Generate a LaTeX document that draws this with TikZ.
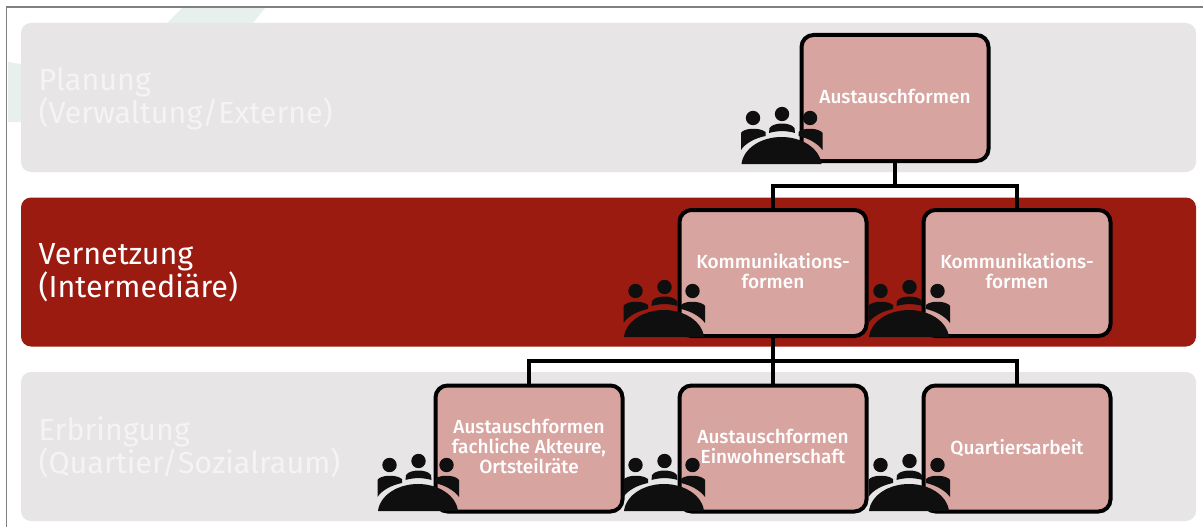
\documentclass[tikz,border=0pt]{standalone}
\usepackage{fontspec}
\setmainfont{Fira Sans}
\newfontfamily\boxfont{Fira Sans Medium}
\usetikzlibrary{
  positioning,
}
\definecolor{bandgray}{HTML}{E7E5E6}
\definecolor{bandred}{HTML}{9B1B11}
\definecolor{boxpink}{HTML}{D7A4A0}
\definecolor{decoteal}{HTML}{E8F0EE}
\definecolor{icondark}{HTML}{0F0F0F}
\definecolor{paletext}{HTML}{F5F4F5}
\tikzset{
  band/.style={
    rectangle,
    rounded corners=10pt,
    minimum width=1175pt,
    minimum height=149pt,
    anchor=north west,
    inner sep=0pt,
    outer sep=0pt,
  },
  bandlabel/.style={
    anchor=west,
    align=left,
    inner sep=0pt,
    font=\fontsize{30.5}{33}\selectfont,
  },
  formbox/.style={
    rectangle,
    rounded corners=12pt,
    minimum width=187pt,
    minimum height=126pt,
    inner sep=0pt,
    outer sep=0pt,
    text centered,
    align=center,
    draw=black,
    line width=4pt,
    fill=boxpink,
    text=white,
    text depth=3.5pt,
    font=\boxfont\fontsize{19}{20}\selectfont,
  },
  link/.style={
    draw=black,
    line width=4pt,
  },
  people/.pic={
    \fill[icondark] (-40,0) .. controls (-38,-16) and (-20,-27) .. (0,-27)
      .. controls (20,-27) and (38,-16) .. (40,0) -- cycle;
    \fill[icondark] (-28.5,-46) circle (7.2);
    \fill[icondark] (0.5,-50) circle (7.2);
    \fill[icondark] (28.5,-46) circle (7.2);
    \fill[icondark] (-40.5,-14) -- (-40.5,-31) .. controls (-38,-36) and (-22,-37) .. (-16,-32)
      -- (-16,-28) .. controls (-26,-26) and (-36,-21) .. (-40.5,-14) -- cycle;
    \fill[icondark] (-12.5,-31) -- (-12,-36) .. controls (-8,-42) and (9,-42) .. (13,-36)
      -- (13.5,-31) .. controls (5,-33.5) and (-4,-33.5) .. (-12.5,-31) -- cycle;
    \fill[icondark] (41,-14) -- (41,-31) .. controls (38,-36) and (22,-37) .. (17,-32)
      -- (17,-28) .. controls (26,-26) and (36,-21) .. (41,-14) -- cycle;
  },
}

\begin{document}
\begin{tikzpicture}[x=1pt, y=-1pt, node distance=57pt]
  \useasboundingbox (0,0) rectangle (1203,527);

  % Frame and background
  \fill[white] (0,0) rectangle (1203,527);
  \fill[decoteal] (167,23) -- (182,8) -- (265,8) -- (253,23) -- cycle;
  \fill[decoteal] (8,62) -- (21,64) -- (21,122) -- (8,122) -- cycle;
  \draw[gray, line width=1.6pt] (6.5,527) -- (6.5,7) -- (1203,7);

  % Bands
  \node (planung_band) [band, fill=bandgray] at (21,23) {};
  \node (vernetzung_band) [band, fill=bandred] at (21,197.5) {};
  \node (erbringung_band) [band, fill=bandgray] at (21,372) {};

  \node (planung_label) [bandlabel, text=paletext] at (38.5,99) {Planung\\(Verwaltung/Externe)};
  \node (vernetzung_label) [bandlabel, text=white] at (38.5,272.5) {Vernetzung\\(Intermediäre)};
  \node (erbringung_label) [bandlabel, text=paletext] at (38.5,447.5) {Erbringung\\(Quartier/Sozialraum)};

  % Boxes
  \node (top_box) [formbox] at (895,98) {Austauschformen};
  \node (komm_left) [formbox] at (773,273) {Kommunikations-\\formen};
  \node (komm_right) [formbox, right=of komm_left] {Kommunikations-\\formen};
  \node (aus_mid) [formbox, below=of komm_left, yshift=7.5pt] {Austauschformen\\Einwohnerschaft};
  \node (aus_left) [formbox, left=of aus_mid] {Austauschformen\\fachliche Akteure,\\Ortsteilräte};
  \node (quartier) [formbox, right=of aus_mid] {Quartiersarbeit};

  % Links
  \draw [link] (top_box.south) -- ++(0,25) -| (komm_left.north);
  \draw [link] (top_box.south) -- ++(0,25) -| (komm_right.north);
  \draw [link] (komm_left.south) -- (aus_mid.north);
  \draw [link] (komm_left.south) -- ++(0,25) -| (aus_left.north);
  \draw [link] (komm_left.south) -- ++(0,25) -| (quartier.north);

  % Icons
  \pic at (781.5,164) {people};
  \pic at (664,337) {people};
  \pic at (909,337) {people};
  \pic at (418,511) {people};
  \pic at (664,511) {people};
  \pic at (909,511) {people};

\end{tikzpicture}
\end{document}
